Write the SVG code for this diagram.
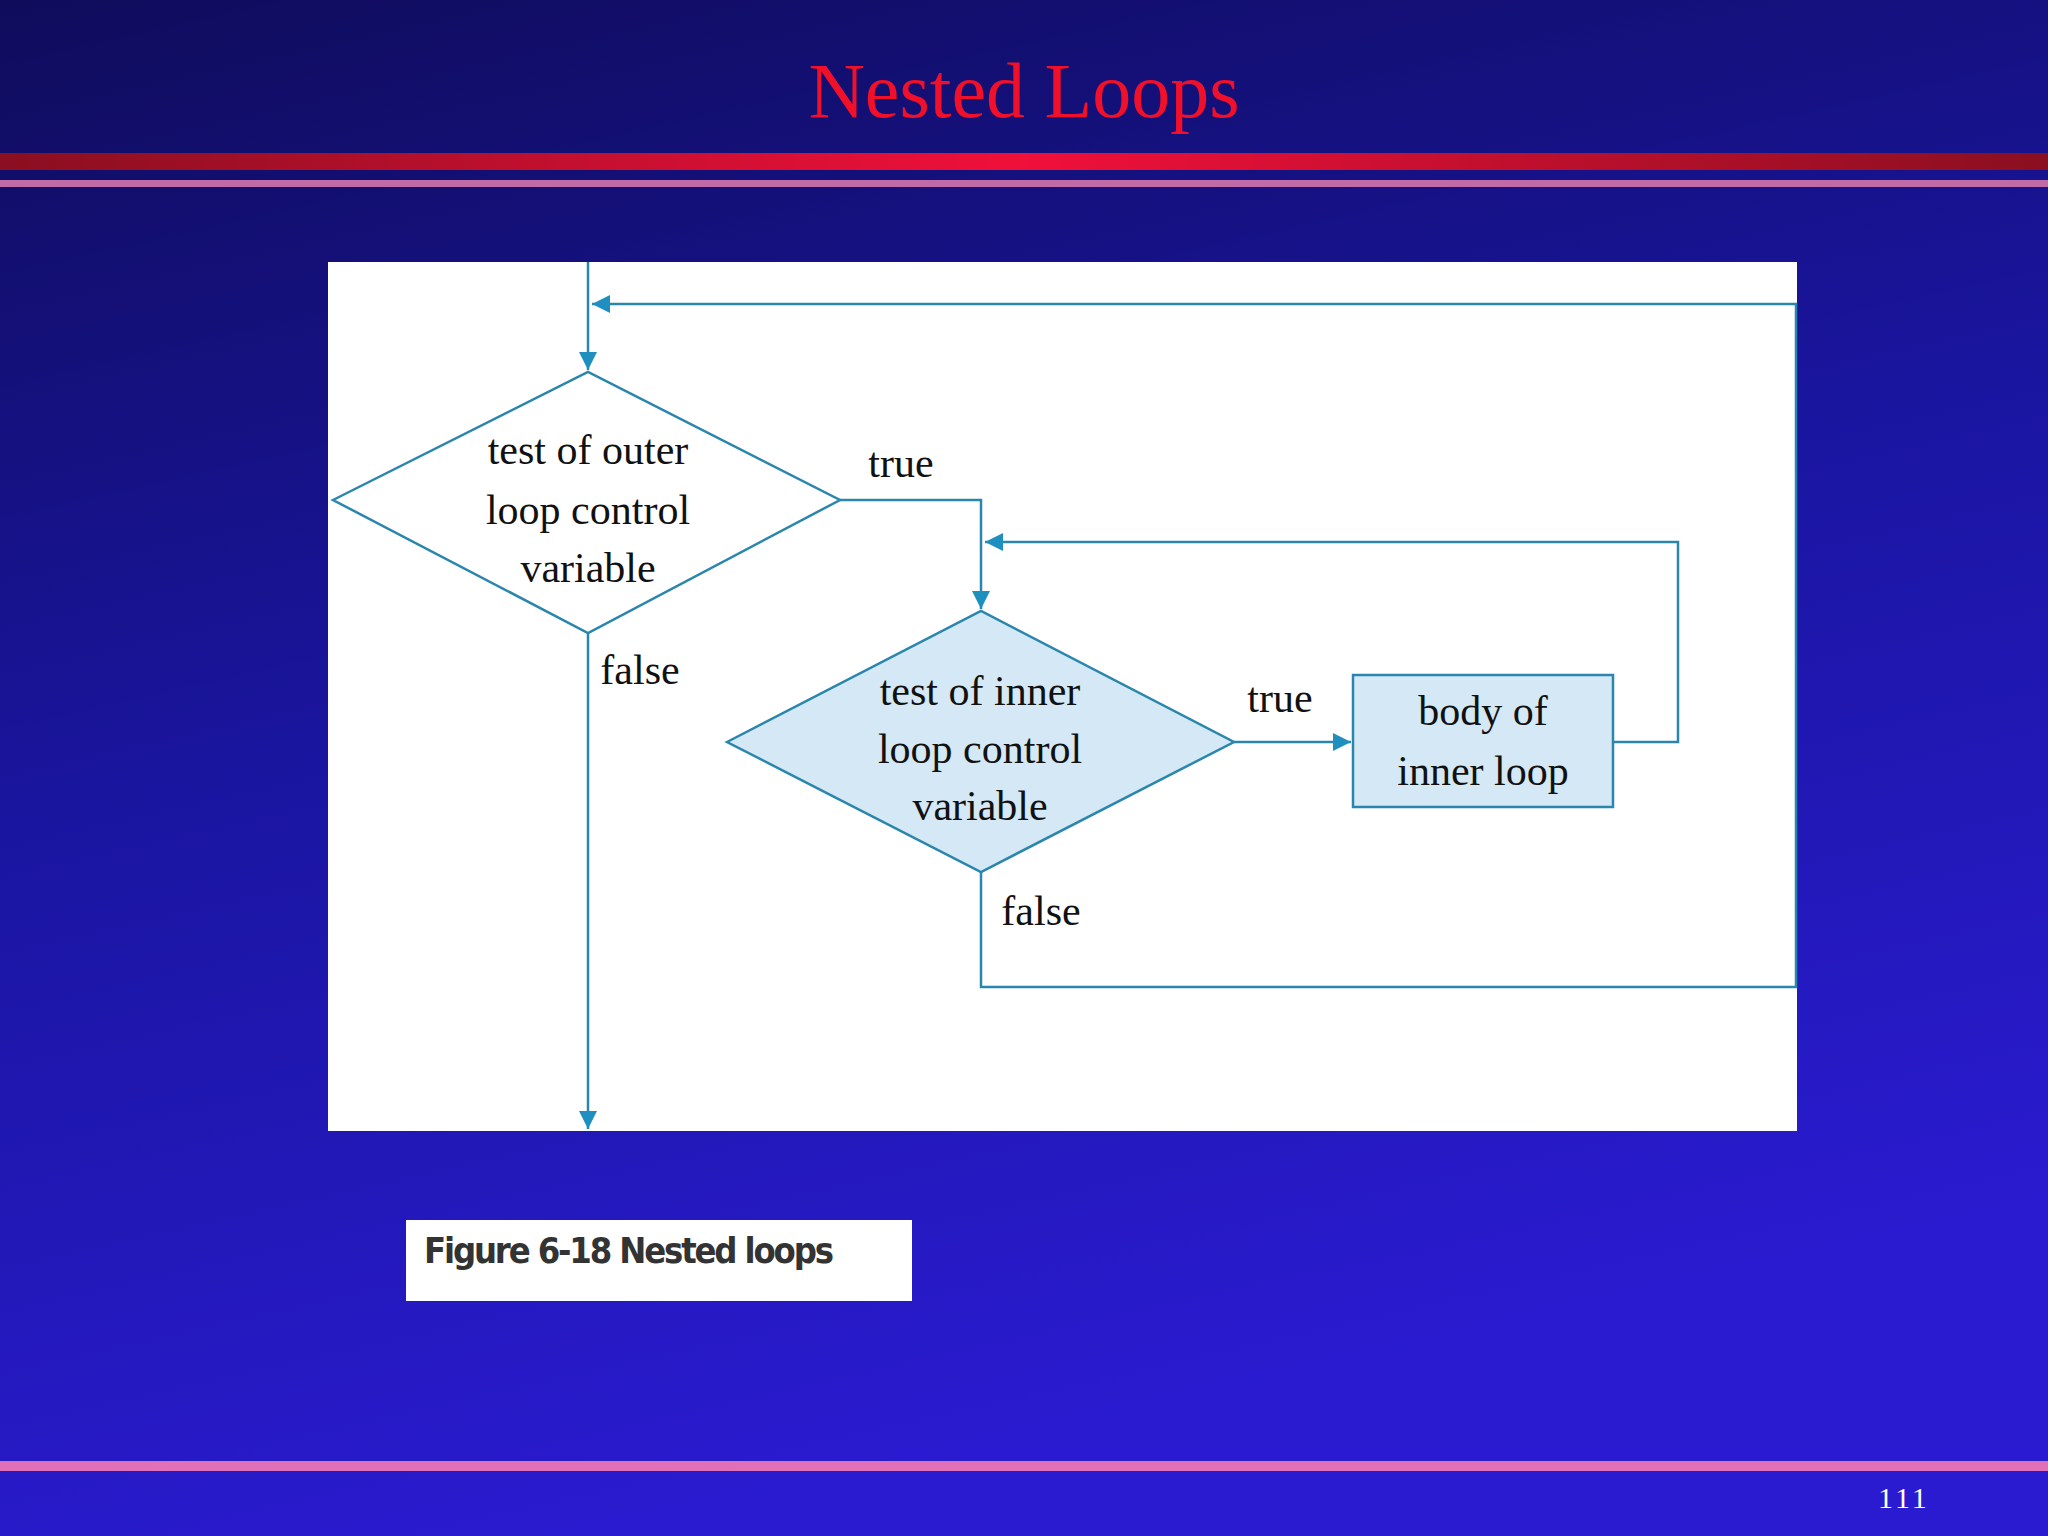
<svg xmlns="http://www.w3.org/2000/svg" width="2048" height="1536" viewBox="0 0 2048 1536">
<defs>
<linearGradient id="bg" x1="0" y1="0" x2="0.3" y2="1">
<stop offset="0" stop-color="#0f0c5c"/><stop offset="0.5" stop-color="#1a15a0"/><stop offset="1" stop-color="#2a1bd0"/>
</linearGradient>
<linearGradient id="red" x1="0" x2="1"><stop offset="0" stop-color="#8a0f20"/><stop offset="0.5" stop-color="#f0103a"/><stop offset="1" stop-color="#8a0f20"/></linearGradient>
<marker id="ah" viewBox="0 0 10 10" refX="10" refY="5" markerWidth="18" markerHeight="18" markerUnits="userSpaceOnUse" orient="auto"><path d="M0,0 L10,5 L0,10 z" fill="#1f8fc0"/></marker>
</defs>
<style>
.ln{fill:none;stroke:#2a86ad;stroke-width:2.5}
.fl{font-family:"Liberation Serif",serif;font-size:42px;fill:#111;text-anchor:middle}
</style>
<rect width="2048" height="1536" fill="url(#bg)"/>
<text x="1024" y="117" font-family="Liberation Serif,serif" font-size="78" fill="#f0102a" text-anchor="middle">Nested Loops</text>
<rect x="0" y="153" width="2048" height="17" fill="url(#red)"/>
<rect x="0" y="180" width="2048" height="7" fill="#c06aa8"/>
<rect x="328" y="262" width="1469" height="869" fill="#fff"/>
<g id="connectors">
<path class="ln" d="M588,262 V370" marker-end="url(#ah)"/>
<path class="ln" d="M588,633 V1129" marker-end="url(#ah)"/>
<path class="ln" d="M840,500 H981 V609" marker-end="url(#ah)"/>
<path class="ln" d="M1234,742 H1351" marker-end="url(#ah)"/>
<path class="ln" d="M1613,742 H1678 V542 H985" marker-end="url(#ah)"/>
<path class="ln" d="M981,872 V987 H1796 V304 H592" marker-end="url(#ah)"/>
</g>
<g id="outer">
<polygon class="ln" fill="#fff" points="333,500 588,372 840,500 588,633"/>
<text class="fl" x="588" y="464">test of outer</text>
<text class="fl" x="588" y="524">loop control</text>
<text class="fl" x="588" y="582">variable</text>
</g>
<g id="inner">
<polygon points="727,742 981,611 1234,742 981,872" fill="#d4e8f5" stroke="#2a86ad" stroke-width="2.5"/>
<text class="fl" x="980" y="705">test of inner</text>
<text class="fl" x="980" y="763">loop control</text>
<text class="fl" x="980" y="820">variable</text>
</g>
<g id="body">
<rect x="1353" y="675" width="260" height="132" fill="#d4e8f5" stroke="#2a86ad" stroke-width="2.5"/>
<text class="fl" x="1483" y="725">body of</text>
<text class="fl" x="1483" y="785">inner loop</text>
</g>
<g id="labels">
<text class="fl" x="901" y="477">true</text>
<text class="fl" x="1280" y="712">true</text>
<text class="fl" x="640" y="684">false</text>
<text class="fl" x="1041" y="925">false</text>
</g>
<g id="caption">
<rect x="406" y="1220" width="506" height="81" fill="#fff"/>
<text x="424" y="1263" font-family="DejaVu Sans Condensed,DejaVu Sans,sans-serif" font-weight="bold" font-size="36" fill="#333" textLength="410">Figure 6-18  Nested loops</text>
</g>
<rect x="0" y="1461" width="2048" height="10" fill="#e070b8"/>
<text x="1878" y="1508" font-family="Liberation Serif,serif" font-size="30" fill="#fff" letter-spacing="3">111</text>
</svg>
